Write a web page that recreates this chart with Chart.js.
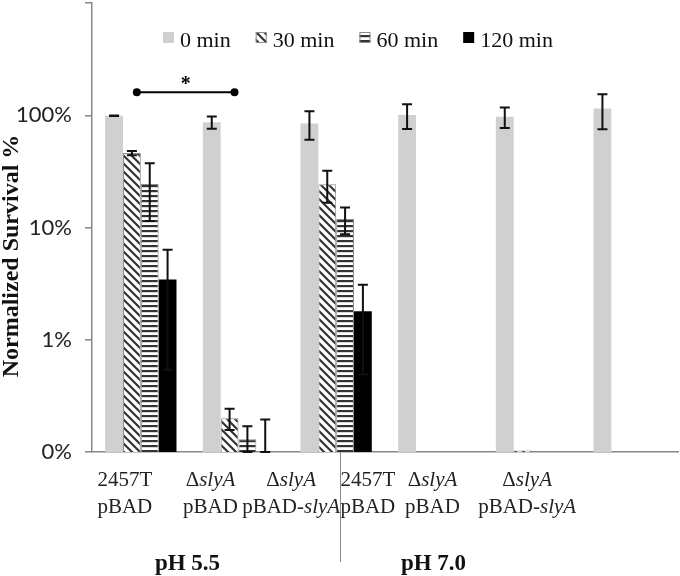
<!DOCTYPE html>
<html lang="en">
<head>
<meta charset="UTF-8">
<title>Normalized Survival</title>
<script src="https://cdn.jsdelivr.net/npm/chart.js"></script>
<style>
  body { margin: 0; background: #fff; }
</style>
</head>
<body>
<canvas id="myChart" width="680" height="576"></canvas>
<script>
// two-line category labels, _text_ is drawn italic
const categories = [
  ['2457T', 'pBAD'],
  ['Δ_slyA_', 'pBAD'],
  ['Δ_slyA_', 'pBAD-_slyA_'],
  ['2457T', 'pBAD'],
  ['Δ_slyA_', 'pBAD'],
  ['Δ_slyA_', 'pBAD-_slyA_']
];
const seriesNames = ['0 min', '30 min', '60 min', '120 min'];
const groupNames = ['pH 5.5', 'pH 7.0'];

// survival in % on a log axis (0.1 is the floor, labelled "0%")
const surv0 = [99, 86.7, 84.4, 100.5, 97, 114.7];
const surv30 = [46, 0.2, 24.3, null, 0.103, null];
const surv60 = [24.4, 0.13, 11.9, null, null, null];
const surv120 = [3.44, 0.1, 1.79, null, null, null];

const err0 = [0.5, 11, 24, 25, 20, 39.5];
const err30 = [2, 0.043, 7.7, null, null, null];
const err60 = [13, 0.04, 3.2, null, null, null];
const err120 = [2.9, 0.095, 1.3, null, null, null];

const yTicks = [0.1, 1, 10, 100, 1000];
const yTickLabels = ['0%', '1%', '10%', '100%', ''];

// significance bracket between category 0 and 1, at this y value
const sigPair = [0, 1];
const sigLevel = 160;

const ctx = document.getElementById('myChart').getContext('2d');

// hatch fills
function diagPattern() {
  const c = document.createElement('canvas');
  c.width = 8; c.height = 8;
  const g = c.getContext('2d');
  g.fillStyle = '#fff'; g.fillRect(0, 0, 8, 8);
  g.strokeStyle = '#333'; g.lineWidth = 2.2;
  g.beginPath();
  g.moveTo(-2, -2); g.lineTo(10, 10);
  g.moveTo(-2, 6); g.lineTo(2, 10);
  g.moveTo(6, -2); g.lineTo(10, 2);
  g.stroke();
  return ctx.createPattern(c, 'repeat');
}
function horizPattern() {
  const c = document.createElement('canvas');
  c.width = 4; c.height = 5;
  const g = c.getContext('2d');
  g.fillStyle = '#fff'; g.fillRect(0, 0, 4, 5);
  g.fillStyle = '#333'; g.fillRect(0, 0, 4, 2.2);
  return ctx.createPattern(c, 'repeat');
}
const diag = diagPattern();
const horiz = horizPattern();

const datasets = [
  { label: seriesNames[0], data: surv0, err: err0, backgroundColor: '#d0d0d0', borderWidth: 0 },
  { label: seriesNames[1], data: surv30, err: err30, backgroundColor: diag, borderColor: '#8c8c8c', borderWidth: 1 },
  { label: seriesNames[2], data: surv60, err: err60, backgroundColor: horiz, borderColor: '#8c8c8c', borderWidth: 1 },
  { label: seriesNames[3], data: surv120, err: err120, backgroundColor: '#000', borderWidth: 0 }
];

// where the hand-placed texts sit (shift from category centre)
const labelShift = [-16, -28, -45, -66, -99, -102];
const groupShift = [[1, -51], [4, -98]];
const serif = '"Liberation Serif", "Times New Roman", serif';

function drawRich(c, text, cx, by, size) {
  const parts = text.split('_');
  let w = 0;
  parts.forEach((p, k) => {
    c.font = (k % 2 ? 'italic ' : '') + size + 'px ' + serif;
    w += c.measureText(p).width;
  });
  let xx = cx - w / 2;
  parts.forEach((p, k) => {
    c.font = (k % 2 ? 'italic ' : '') + size + 'px ' + serif;
    c.fillText(p, xx, by);
    xx += c.measureText(p).width;
  });
}

const extras = {
  id: 'extras',
  afterDatasetsDraw(chart) {
    const { ctx: c, chartArea, scales: { x, y } } = chart;
    c.save();

    // error bars
    c.strokeStyle = '#111';
    c.lineWidth = 2;
    chart.data.datasets.forEach((ds, di) => {
      const meta = chart.getDatasetMeta(di);
      meta.data.forEach((bar, i) => {
        const v = ds.data[i], e = ds.err[i];
        if (v == null || e == null) return;
        const top = y.getPixelForValue(v + e);
        const low = v - e;
        const bot = low > y.min ? y.getPixelForValue(low) : chartArea.bottom;
        c.beginPath();
        c.moveTo(bar.x, top); c.lineTo(bar.x, bot);
        c.moveTo(bar.x - 5, top); c.lineTo(bar.x + 5, top);
        c.moveTo(bar.x - 5, bot); c.lineTo(bar.x + 5, bot);
        c.stroke();
      });
    });

    // significance bracket
    const sy = y.getPixelForValue(sigLevel);
    const sx1 = x.getPixelForValue(sigPair[0]) - 4;
    const sx2 = x.getPixelForValue(sigPair[1]) - 4;
    c.strokeStyle = '#000';
    c.fillStyle = '#000';
    c.lineWidth = 2;
    c.beginPath(); c.moveTo(sx1, sy); c.lineTo(sx2, sy); c.stroke();
    [sx1, sx2].forEach(px => { c.beginPath(); c.arc(px, sy, 4, 0, Math.PI * 2); c.fill(); });
    c.font = 'bold 20px ' + serif;
    c.textAlign = 'center';
    c.textBaseline = 'alphabetic';
    c.fillText('*', (sx1 + sx2) / 2, sy - 2);

    // legend
    c.textAlign = 'left';
    c.font = '22px ' + serif;
    let lx = 163;
    datasets.forEach(ds => {
      c.fillStyle = ds.backgroundColor;
      c.fillRect(lx, 32, 11, 11);
      if (ds.borderWidth) {
        c.strokeStyle = '#8c8c8c'; c.lineWidth = 1;
        c.strokeRect(lx + 0.5, 32.5, 10, 10);
      }
      c.fillStyle = '#111';
      c.fillText(ds.label, lx + 17, 47);
      lx += 17 + c.measureText(ds.label).width + 25;
    });

    // category labels
    c.fillStyle = '#222';
    categories.forEach((lines, i) => {
      const cx = x.getPixelForValue(i) + labelShift[i];
      drawRich(c, lines[0], cx, 486, 21);
      drawRich(c, lines[1], cx, 513, 21);
    });

    // separator between pH groups
    c.strokeStyle = '#888';
    c.lineWidth = 1;
    const sepX = Math.round(x.getPixelForValue(2) + 4) + 0.5;
    c.beginPath(); c.moveTo(sepX, chartArea.bottom); c.lineTo(sepX, 562); c.stroke();

    // pH group names
    c.fillStyle = '#111';
    c.textAlign = 'center';
    c.font = 'bold 23px ' + serif;
    groupNames.forEach((g, k) => {
      c.fillText(g, x.getPixelForValue(groupShift[k][0]) + groupShift[k][1], 570);
    });

    // y axis title
    c.translate(18, 256);
    c.rotate(-Math.PI / 2);
    c.font = 'bold 24px ' + serif;
    c.fillText('Normalized Survival %', 0, 0);

    c.restore();
  }
};

new Chart(ctx, {
  type: 'bar',
  data: { labels: categories, datasets: datasets },
  options: {
    responsive: false,
    animation: false,
    layout: { padding: { top: 3, right: 2, left: 0, bottom: 0 } },
    plugins: { legend: { display: false }, tooltip: { enabled: false } },
    datasets: { bar: { barPercentage: 1, categoryPercentage: 0.73 } },
    scales: {
      x: {
        grid: { display: false },
        border: { color: '#888', width: 1.5 },
        ticks: { display: false },
        afterFit: s => { s.height = 124; }
      },
      y: {
        type: 'logarithmic',
        min: 0.1,
        max: 1000,
        afterBuildTicks: s => { s.ticks = yTicks.map(v => ({ value: v })); },
        afterFit: s => { s.width = 92; s.paddingTop = 0; s.paddingBottom = 0; },
        grid: { drawOnChartArea: false, drawTicks: true, tickLength: 7, color: '#888', lineWidth: 1.5 },
        border: { color: '#888', width: 1.5 },
        ticks: {
          padding: 13,
          color: '#222',
          font: { family: 'Lato', size: 22 },
          callback: (v, i) => yTickLabels[i]
        }
      }
    }
  },
  plugins: [extras]
});
</script>
</body>
</html>
